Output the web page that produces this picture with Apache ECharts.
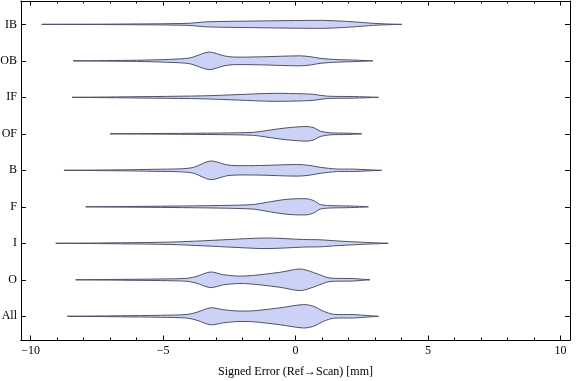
<!DOCTYPE html>
<html>
<head>
<meta charset="utf-8">
<script src="https://cdn.jsdelivr.net/npm/echarts@6/dist/echarts.min.js"></script>
<style>html,body{margin:0;padding:0;background:#fff}#c{width:576px;height:381px}</style>
</head>
<body>
<div id="c"></div>
<script>
// Categories bottom to top
const categories = ['All', 'O', 'I', 'F', 'B', 'OF', 'IF', 'OB', 'IB'];
// Violin profiles: [signed error (mm), relative density half-width]
const profileAll = [[-8.61,0],[-6.6,0.5],[-5.1,1.0],[-4.09,1.8],[-3.72,4],[-3.21,8.5],[-2.71,6.5],[-2.21,5.3],[-1.58,5.5],[-0.58,8.5],[0.3,11.7],[0.68,10],[1.06,5],[1.43,2],[2.19,1.7],[2.69,0.8],[3.13,0]];
const profileO = [[-8.3,0],[-6.6,0.4],[-5.1,0.8],[-4.09,1.5],[-3.72,3.5],[-3.21,7.8],[-2.71,5],[-1.96,3.7],[-0.58,7.5],[0.18,10.8],[0.68,7.3],[1.06,3.5],[1.3,1.7],[2.19,1.2],[2.5,0.6],[2.81,0]];
const profileI = [[-9.05,0],[-6.6,0.5],[-4.73,1.2],[-3.47,2.5],[-2.2,4.2],[-1.08,5.3],[0.3,3.8],[0.93,3.5],[1.6,2.3],[2.19,1.5],[2.82,0.7],[3.5,0]];
const profileF = [[-7.92,0],[-4.73,0.7],[-2.84,1.3],[-1.58,2.3],[-1.08,4.5],[-0.32,7.5],[0.43,8],[0.7,6],[0.93,2.3],[1.31,1.2],[2.07,0.8],[2.75,0]];
const profileB = [[-8.74,0],[-6.5,0.5],[-5.35,1],[-4.34,1.5],[-3.84,3],[-3.21,9.3],[-2.6,5.5],[-2.21,4.7],[-1.33,4.8],[0.05,5.8],[0.5,5],[0.93,3],[1.56,1.3],[2.19,1.2],[2.7,0.6],[3.25,0]];
const profileOF = [[-7.0,0],[-2.84,0.8],[-1.58,1.5],[-1.08,3.3],[-0.32,6],[0.43,7.3],[0.7,6],[0.93,2.7],[1.31,1],[1.94,0.7],[2.5,0]];
const profileIF = [[-8.43,0],[-7.2,0.3],[-5.35,0.8],[-3.47,1.5],[-2.21,2.7],[-0.83,4],[0.3,3.5],[0.68,3],[1.18,1.2],[2.19,0.8],[3.13,0]];
const profileOB = [[-8.39,0],[-6,0.6],[-4.73,1.5],[-3.97,3],[-3.27,8.8],[-2.7,5],[-2.34,3.8],[-1.33,4],[0.18,5],[0.6,4],[0.93,2.5],[1.56,1.3],[2.19,0.8],[2.92,0]];
const profileIB = [[-9.58,0],[-6.6,0.3],[-4.09,1],[-3.34,2.5],[-1.58,3.3],[0.93,4],[1.6,3.4],[2.19,2.5],[2.94,1],[3.45,0.4],[4.01,0]];
const profiles = [profileAll, profileO, profileI, profileF, profileB, profileOF, profileIF, profileOB, profileIB];
// Axis ticks
const xMajorTicks = [-10, -5, 0, 5, 10];
const xMinorTicks = [-9,-8,-7,-6,-4,-3,-2,-1,1,2,3,4,6,7,8,9];
const yTicks = [1,2,3,4,5,6,7,8,9];
const xTitle = 'Signed Error (Ref\u2192Scan) [mm]';

const densityScale = 1 / 36.5;
const FONT = "'Liberation Serif', 'Times New Roman', serif";
const X_MIN = -10.36, X_MAX = 10.36, Y_MIN = 0.35, Y_MAX = 9.64;

function fmtX(v) { return v < 0 ? '\u2212' + Math.abs(v) : String(v); }

const lineStyle = { color: '#000', width: 1 };
function xAx(pos, ticks, len, labels, name) {
  return {
    type: 'value', position: pos, min: X_MIN, max: X_MAX,
    axisLine: { show: true, onZero: false, lineStyle },
    axisTick: { show: true, inside: true, length: len, customValues: ticks, lineStyle },
    axisLabel: labels ? { show: true, customValues: ticks, formatter: fmtX, color: '#000', fontFamily: FONT, fontSize: 12, margin: 5 } : { show: false },
    splitLine: { show: false },
    name: name || '', nameLocation: 'middle', nameGap: 26,
    nameTextStyle: { color: '#000', fontFamily: FONT, fontSize: 12 }
  };
}
function yAx(pos, labels) {
  return {
    type: 'value', position: pos, min: Y_MIN, max: Y_MAX,
    axisLine: { show: true, onZero: false, lineStyle },
    axisTick: { show: true, inside: true, length: 5, customValues: yTicks, lineStyle },
    axisLabel: labels ? { show: true, customValues: yTicks, formatter: v => categories[Math.round(v) - 1] || '', color: '#000', fontFamily: FONT, fontSize: 12, margin: 4 } : { show: false },
    splitLine: { show: false }
  };
}

const chart = echarts.init(document.getElementById('c'), null, { renderer: 'canvas' });
chart.setOption({
  animation: false,
  backgroundColor: '#fff',
  grid: { left: 21, right: 6, top: 1, bottom: 41, containLabel: false, outerBoundsMode: 'none' },
  xAxis: [
    xAx('bottom', xMajorTicks, 4.5, true, xTitle),
    xAx('bottom', xMinorTicks, 2.5, false),
    xAx('top', xMajorTicks, 4.5, false),
    xAx('top', xMinorTicks, 2.5, false)
  ],
  yAxis: [yAx('left', true), yAx('right', false)],
  series: [{
    type: 'custom',
    xAxisIndex: 0, yAxisIndex: 0,
    clip: false,
    data: categories.map((c, i) => [0, i + 1, i]),
    encode: { x: 0, y: 1 },
    renderItem: function (params, api) {
      const idx = api.value(2);
      const prof = profiles[idx];
      const yc = idx + 1;
      const upper = prof.map(p => api.coord([p[0], yc + p[1] * densityScale]));
      const lower = prof.slice().reverse().map(p => api.coord([p[0], yc - p[1] * densityScale]));
      return {
        type: 'polygon',
        shape: { points: upper.concat(lower), smooth: 0.3 },
        style: { fill: 'rgb(204,210,246)', stroke: 'rgb(78,82,100)', lineWidth: 1 }
      };
    }
  }]
});
</script>
</body>
</html>
